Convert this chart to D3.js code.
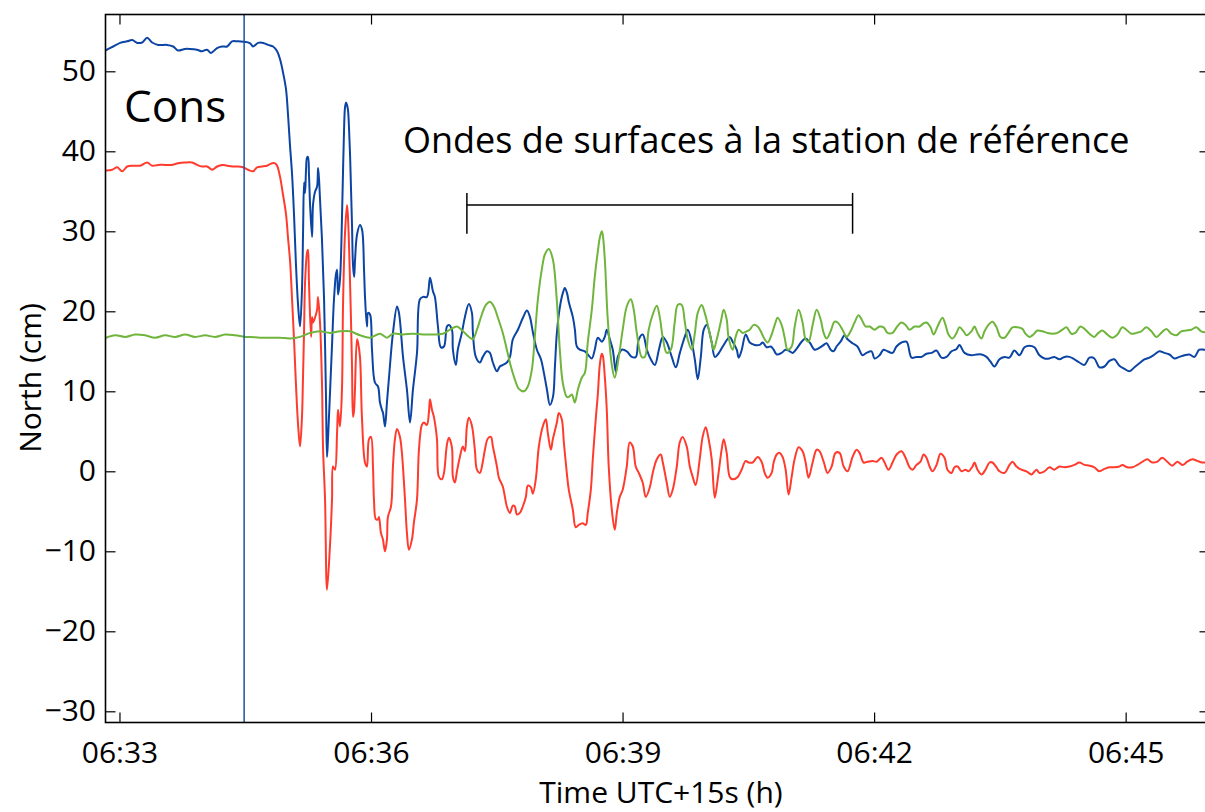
<!DOCTYPE html>
<html>
<head>
<meta charset="utf-8">
<script src="https://cdn.jsdelivr.net/npm/d3@7"></script>
<style>
  html, body { margin: 0; padding: 0; background: #fff; }
  svg text { font-family: "Open Sans", "Noto Sans", sans-serif; fill: #000; }
</style>
</head>
<body>
<svg id="chart" width="1205" height="812"></svg>
<script>
// Time in seconds after 06:33:00 (UTC+15 s), north displacement in cm.
const blueNorth = [
  [-10.2,52.6],[-4.5,53.1],[0.5,53.55],[5.5,53.75],[9.1,53.9],[12.7,53.55],[16.2,53.6],[19.8,54.2],
  [23.4,53.6],[27.7,53.3],[34.1,53.3],[38.4,53.1],[41.9,52.6],[46.8,52.8],[50.4,52.8],[55.4,52.7],
  [59.0,52.5],[62.6,52.7],[65.5,52.3],[69.8,52.9],[73.4,53.1],[77.0,53.1],[80.6,53.75],[84.2,53.75],
  [88.5,53.7],[93.5,53.5],[95.6,53.1],[99.2,53.55],[102.8,53.55],[106.4,53.3],[109.9,53.1],[112.8,52.5],
  [114.9,51.5],[117.1,49.8],[119.2,47.7],[120.6,44.6],[122.0,40.8],[123.5,37.1],[124.9,32.1],[126.3,25.8],
  [127.8,20.8],[129.2,18.1],[130.6,22.7],[131.4,30.2],[132.1,36.1],[132.8,34.8],[133.5,37.7],[134.2,39.2],
  [134.9,39.3],[135.6,37.1],[136.4,33.3],[137.8,29.3],[138.5,33.3],[139.9,34.9],[141.4,35.6],[142.1,37.9],
  [142.8,36.5],[143.5,34.0],[144.9,29.0],[146.4,21.5],[147.8,9.0],[148.5,1.8],[149.2,4.0],[150.6,9.6],
  [152.1,15.8],[153.5,21.5],[154.9,24.6],[155.7,25.2],[156.4,22.1],[157.8,24.0],[159.2,31.5],[160.0,37.7],
  [160.7,42.7],[161.4,45.5],[162.1,46.1],[162.8,45.8],[163.5,45.2],[164.3,42.7],[165.0,39.6],[165.7,35.2],
  [166.4,30.8],[167.1,25.8],[167.9,24.3],[168.6,26.5],[170.0,29.6],[172.1,30.8],[173.6,30.2],[175.0,25.2],
  [175.7,21.8],[177.1,18.1],[177.9,19.8],[179.3,19.6],[180.7,15.2],[182.8,11.1],[185.0,10.6],[186.4,8.6],
  [187.8,7.7],[188.6,7.3],[190.0,5.6],[191.4,8.6],[192.9,11.8],[195.7,17.3],[198.6,20.6],[200.0,19.8],
  [202.9,14.3],[205.7,10.2],[207.9,6.1],[210.0,10.2],[212.9,14.8],[215.0,21.5],[217.2,21.8],[220.0,21.8],
  [222.2,24.2],[224.3,22.5],[225.7,21.8],[227.9,18.1],[230.0,15.5],[232.2,15.6],[234.3,18.1],[235.7,18.3],
  [237.9,17.7],[238.6,15.2],[240.7,13.3],[242.1,15.2],[245.0,17.3],[247.2,19.3],[250.0,20.9],[252.2,19.8],
  [252.9,17.3],[255.0,14.3],[257.9,13.6],[260.0,14.3],[262.9,15.0],[265.1,14.8],[267.2,13.6],[270.1,12.5],
  [272.2,13.1],[274.4,13.3],[277.2,13.6],[279.4,14.3],[281.5,16.5],[285.1,17.7],[288.7,19.2],[291.6,20.1],
  [293.7,19.3],[295.9,17.3],[298.7,15.2],[301.6,14.0],[303.7,12.3],[305.9,10.2],[308.0,8.3],[310.2,9.3],
  [311.6,13.1],[313.0,17.3],[315.2,20.6],[317.3,22.3],[318.7,22.9],[320.2,22.3],[321.6,21.1],[324.4,19.3],
  [325.9,17.7],[327.3,15.6],[329.4,15.2],[333.0,15.0],[335.1,14.6],[338.0,14.1],[340.1,15.2],[342.3,16.7],
  [345.2,16.2],[347.3,16.8],[348.7,17.7],[350.9,16.5],[353.0,15.2],[355.2,12.4],[356.6,14.3],[359.5,15.2],
  [363.0,15.0],[366.6,14.3],[369.5,14.3],[371.6,16.5],[374.5,17.1],[377.4,15.2],[380.2,14.0],[383.1,13.3],
  [386.0,15.2],[388.8,16.8],[391.7,16.1],[395.2,14.3],[398.1,13.0],[401.0,14.8],[404.5,16.8],[406.7,17.7],
  [409.5,16.1],[411.7,14.0],[413.8,11.5],[416.0,14.3],[418.1,17.7],[420.3,18.3],[423.8,16.1],[426.0,14.3],
  [428.1,14.6],[431.7,15.6],[436.7,16.8],[438.8,16.2],[441.7,15.2],[443.1,14.2],[445.3,15.2],[448.1,17.1],
  [451.0,16.1],[454.6,15.8],[458.1,15.8],[460.3,16.1],[463.1,15.5],[466.0,15.6],[468.1,15.2],[470.3,14.6],
  [473.8,14.8],[476.7,15.2],[479.6,15.0],[481.7,14.8],[484.5,15.3],[488.1,16.2],[491.0,16.6],[493.9,16.1],
  [497.4,15.2],[499.6,15.3],[503.2,15.7],[506.0,16.0],[508.9,15.2],[511.0,15.0],[513.1,15.6],[516.0,16.2],
  [518.9,17.0],[521.0,16.5],[524.6,16.0],[528.1,15.6],[531.7,14.5],[534.6,14.8],[538.2,15.0],[540.3,14.1],
  [543.9,14.5],[546.7,15.2],[549.6,15.0],[553.2,14.8],[556.0,15.6],[559.6,16.1],[563.2,16.2],[566.8,14.2],
  [570.3,14.3],[573.9,14.3],[577.5,14.7],[581.1,14.8],[584.6,15.1],[588.2,14.2],[591.8,14.3],[595.4,15.0],
  [599.0,15.3],[601.1,15.8],[604.7,14.8],[609.7,14.5],[613.3,14.6],[616.9,14.6],[620.4,14.3],[623.3,13.7],
  [626.1,13.1],[629.7,14.0],[633.3,14.3],[636.8,14.2],[640.4,15.1],[644.0,14.5],[647.6,15.5],[651.1,15.7],
  [654.7,15.5],[658.3,14.5],[661.9,14.1],[665.4,14.1],[669.0,14.3],[672.6,14.0],[676.2,14.3],[679.8,14.3],
  [683.3,14.0],[686.9,13.6],[690.5,13.3],[694.1,14.2],[697.6,14.1],[701.2,13.0],[704.8,13.1],[708.4,13.8],
  [711.9,14.0],[715.5,13.2],[719.1,12.8],[722.7,12.5],[726.3,13.0],[729.8,13.5],[733.4,14.0],[737.0,14.2],
  [740.6,14.6],[744.1,15.0],[747.7,14.8],[751.3,14.6],[754.9,14.1],[758.4,14.3],[762.0,14.5],[765.6,14.6],
  [769.2,14.3],[772.7,15.2],[776.3,15.2],[779.9,15.2]
];

const redNorth = [
  [-9.5,37.6],[-5.2,37.7],[-1.6,38.0],[1.9,37.5],[5.5,38.1],[9.8,38.2],[14.8,38.2],[19.8,38.6],
  [23.4,38.2],[27.7,38.3],[32.7,38.3],[37.7,38.3],[42.0,38.5],[47.0,38.6],[52.0,38.6],[55.6,38.3],
  [59.1,38.1],[62.7,38.1],[66.3,37.7],[69.9,38.1],[73.4,38.3],[77.0,38.2],[80.6,38.1],[84.2,38.1],
  [88.4,38.0],[92.0,37.7],[95.6,37.5],[98.5,38.0],[102.0,38.1],[105.6,38.2],[109.2,38.5],[111.3,38.5],
  [112.8,38.2],[114.9,36.8],[117.0,34.6],[119.2,32.1],[120.6,29.2],[122.1,26.2],[123.5,21.5],[124.9,16.5],
  [126.3,10.8],[127.8,5.8],[129.2,3.1],[130.6,6.8],[131.3,11.5],[132.1,17.7],[132.8,23.6],[134.2,27.3],
  [134.9,27.7],[135.6,23.6],[137.1,16.8],[137.8,19.3],[138.5,18.6],[139.9,19.2],[141.4,20.2],[142.1,21.8],
  [143.5,18.6],[144.9,11.1],[145.7,2.7],[147.1,-3.5],[148.5,-14.8],[150.6,-9.4],[152.1,-3.5],[152.8,0.6],
  [154.2,0.2],[155.7,4.8],[156.4,7.7],[157.8,5.6],[159.2,10.2],[160.0,21.1],[161.4,29.8],[162.8,33.3],
  [163.5,31.8],[165.0,23.6],[166.4,13.1],[167.1,6.8],[167.8,7.5],[168.5,10.2],[170.0,16.5],[170.7,16.1],
  [172.1,14.3],[173.5,6.8],[175.7,1.1],[177.1,0.6],[178.5,4.0],[180.0,4.3],[181.4,0.6],[182.1,-3.5],
  [183.5,-6.0],[185.0,-6.0],[185.7,-5.7],[187.1,-7.7],[188.5,-8.5],[189.3,-9.4],[190.0,-10.0],[191.4,-8.5],
  [192.1,-5.7],[194.3,-4.4],[195.7,0.6],[197.1,4.0],[198.6,5.3],[200.7,4.3],[202.1,2.3],[204.3,-3.5],
  [205.7,-7.7],[207.1,-9.8],[209.3,-8.5],[210.7,-6.4],[212.9,-3.5],[214.3,2.7],[216.4,5.8],[217.9,6.1],
  [220.0,5.8],[221.4,7.3],[222.2,9.0],[223.6,7.7],[225.0,6.8],[227.2,4.0],[228.6,-0.7],[230.7,-1.0],
  [232.2,-0.2],[234.3,3.3],[235.7,4.2],[237.9,3.0],[238.6,-0.7],[240.0,-1.4],[241.5,0.0],[243.6,1.8],
  [245.7,3.1],[247.2,2.5],[248.6,5.6],[250.0,6.7],[252.2,5.7],[254.3,2.7],[255.8,0.2],[257.9,-0.2],
  [260.0,1.2],[261.5,2.7],[263.6,4.1],[265.8,4.3],[267.2,3.1],[270.1,0.6],[271.5,-0.8],[274.3,-1.9],
  [275.8,-3.2],[277.2,-4.4],[279.4,-5.2],[281.5,-4.3],[282.9,-4.4],[284.4,-5.4],[286.5,-5.2],[288.6,-4.4],
  [290.8,-3.2],[292.2,-1.8],[294.4,-2.0],[295.8,-2.8],[297.9,-1.0],[300.1,3.1],[302.9,5.6],[305.1,6.5],
  [306.5,4.8],[308.7,2.7],[310.1,4.0],[313.0,6.1],[314.4,7.3],[316.5,6.5],[318.0,3.6],[320.1,-0.2],
  [321.5,-2.3],[324.4,-4.8],[326.5,-7.0],[328.7,-6.7],[331.5,-6.5],[333.7,-6.7],[335.1,-5.2],[337.3,-2.3],
  [338.7,1.5],[340.8,6.5],[342.3,9.6],[343.7,13.3],[345.1,14.7],[345.8,14.5],[347.3,11.8],[348.7,7.7],
  [350.1,0.6],[352.3,-4.8],[354.4,-7.3],[355.9,-5.2],[358.0,-3.2],[360.1,-2.3],[363.0,0.6],[365.1,3.6],
  [367.3,3.1],[369.4,0.6],[371.6,-0.2],[374.4,-1.4],[376.6,-3.2],[379.5,-2.0],[381.6,-0.2],[384.5,1.5],
  [387.3,2.1],[388.8,1.1],[391.6,-1.4],[393.8,-3.2],[395.9,-2.3],[398.8,0.6],[400.9,3.6],[403.0,4.3],
  [405.9,3.1],[408.1,0.6],[410.2,-0.7],[412.3,-1.7],[415.2,1.5],[417.3,4.3],[419.5,5.5],[421.6,4.0],
  [423.8,1.5],[426.0,-3.3],[428.1,-1.0],[430.9,2.7],[432.4,4.0],[434.5,2.3],[436.7,-0.7],[438.8,-1.0],
  [442.4,-0.7],[445.2,0.2],[448.1,1.3],[450.2,1.1],[453.1,1.1],[456.7,1.8],[459.5,1.2],[461.7,-0.2],
  [463.8,-0.8],[466.7,-0.2],[468.1,1.1],[470.3,2.1],[472.4,2.3],[474.5,1.8],[476.7,0.2],[478.8,-2.9],
  [481.0,-0.7],[483.1,1.5],[486.0,3.0],[488.8,2.5],[491.0,1.1],[493.1,-0.8],[496.0,1.1],[498.9,2.7],
  [501.0,2.5],[503.9,1.2],[506.7,-0.2],[509.6,0.6],[512.4,2.3],[515.3,2.3],[518.2,0.6],[521.0,0.0],
  [524.6,1.8],[527.5,2.7],[529.6,2.3],[532.5,1.1],[535.3,1.2],[538.9,1.3],[541.8,1.2],[545.3,1.7],
  [547.5,1.1],[550.3,0.2],[553.2,1.1],[556.1,2.1],[559.6,2.5],[562.5,1.7],[565.4,0.5],[567.5,0.2],
  [570.3,0.8],[573.2,1.2],[575.4,2.1],[577.5,1.7],[579.7,0.6],[581.8,0.0],[584.7,0.8],[587.5,2.2],
  [590.4,1.7],[592.5,0.2],[595.4,-0.2],[597.5,0.5],[599.7,0.6],[602.5,0.0],[605.4,0.2],[607.5,0.0],
  [610.4,0.6],[611.8,1.1],[614.0,0.2],[616.8,-0.4],[619.7,0.2],[622.6,1.1],[624.7,1.1],[627.6,0.5],
  [629.7,0.0],[633.3,-0.2],[636.9,0.8],[639.0,1.2],[641.9,0.6],[645.4,0.2],[649.0,0.0],[652.6,-0.4],
  [656.2,0.2],[658.3,-0.2],[661.9,0.0],[665.5,0.5],[669.0,0.2],[672.6,0.6],[676.2,0.5],[679.8,0.6],
  [683.3,0.8],[686.9,1.1],[690.5,0.8],[694.1,0.7],[697.6,0.5],[701.2,0.0],[704.8,0.3],[708.4,0.5],
  [712.0,0.5],[715.5,0.6],[717.7,0.8],[721.2,0.5],[724.8,0.5],[728.4,0.8],[732.1,1.2],[735.5,1.5],
  [739.1,1.1],[742.7,1.2],[746.2,1.7],[749.8,1.2],[753.4,0.7],[757.0,1.2],[760.6,0.8],[764.1,1.2],
  [767.7,1.5],[771.3,1.3],[774.8,1.1],[779.9,1.2]
];

const greenNorth = [
  [-9.5,16.7],[-3.1,17.0],[4.1,16.8],[11.2,17.1],[18.4,17.0],[25.5,16.7],[32.7,17.0],[39.8,16.8],
  [47.0,17.1],[54.1,16.8],[61.3,17.0],[68.4,16.8],[75.6,17.1],[82.7,17.0],[89.9,16.8],[93.5,16.8],
  [100.6,16.7],[107.8,16.7],[114.9,16.7],[122.1,16.6],[129.2,16.8],[136.4,17.3],[143.5,17.5],[150.7,17.3],
  [157.8,17.5],[165.0,17.5],[172.1,17.0],[179.3,16.7],[186.4,17.2],[191.4,16.7],[195.7,17.2],[202.8,17.1],
  [210.0,17.2],[217.1,17.1],[224.3,17.1],[231.4,17.2],[236.5,17.7],[241.5,18.1],[245.8,17.5],[250.8,16.7],
  [252.9,16.5],[255.8,17.7],[259.3,19.6],[262.2,20.8],[265.1,21.2],[267.9,20.6],[270.8,19.2],[274.3,17.3],
  [277.2,15.2],[280.1,13.1],[282.9,11.5],[285.8,10.3],[289.4,10.0],[292.2,10.6],[295.1,12.7],[297.2,16.8],
  [299.4,21.5],[302.2,25.2],[304.4,27.1],[307.2,27.8],[310.1,26.5],[312.9,21.5],[315.1,15.2],[317.2,11.1],
  [320.1,9.3],[321.5,9.3],[323.7,9.6],[325.8,8.6],[328.0,10.2],[330.8,11.7],[333.0,12.3],[335.1,16.1],
  [338.0,20.2],[340.1,24.3],[342.3,27.5],[343.7,29.2],[345.1,30.0],[345.8,29.6],[347.3,26.5],[349.4,19.0],
  [352.3,13.3],[354.4,11.7],[357.3,14.3],[360.1,17.7],[363.0,20.6],[365.9,21.5],[368.0,20.2],[370.2,17.3],
  [373.7,14.3],[375.9,14.3],[378.7,17.7],[381.6,19.6],[384.5,20.7],[386.6,19.3],[388.7,16.8],[391.6,14.8],
  [394.5,15.2],[397.3,18.6],[399.5,20.8],[402.3,20.8],[404.5,18.7],[406.6,16.5],[409.5,15.2],[411.6,17.1],
  [413.8,19.8],[416.6,20.8],[418.8,19.8],[421.0,18.3],[423.8,16.1],[425.2,15.2],[427.4,16.5],[430.2,18.6],
  [432.4,20.2],[434.5,19.0],[435.9,16.7],[438.8,15.2],[440.9,16.8],[443.1,17.7],[445.9,17.3],[448.8,17.5],
  [451.0,17.7],[453.8,18.3],[456.7,18.1],[459.5,17.3],[461.7,16.5],[463.8,16.1],[466.7,17.1],[468.9,18.3],
  [471.0,19.2],[473.8,18.3],[476.0,16.7],[478.1,15.2],[481.0,15.6],[483.1,18.0],[486.0,20.2],[488.8,18.6],
  [491.0,16.5],[493.1,16.2],[496.0,18.3],[498.9,20.2],[501.7,19.0],[503.9,17.3],[506.0,16.6],[508.9,17.5],
  [511.7,18.7],[513.9,18.6],[517.4,17.7],[520.3,16.8],[523.2,17.5],[526.0,18.6],[528.9,19.5],[531.0,19.0],
  [533.9,18.1],[536.8,18.1],[540.3,17.7],[543.9,18.1],[546.8,18.0],[549.6,17.3],[553.2,17.3],[556.1,18.0],
  [559.6,18.6],[562.5,18.3],[565.4,17.7],[568.9,18.1],[572.5,18.1],[575.4,18.5],[577.5,18.6],[580.4,18.0],
  [582.5,17.1],[585.4,18.1],[588.9,19.2],[591.1,18.3],[593.2,17.1],[596.1,16.6],[599.0,17.3],[601.1,18.0],
  [604.0,17.5],[606.1,17.0],[609.7,17.5],[611.8,18.1],[614.0,17.3],[616.8,16.6],[619.0,17.5],[621.8,18.3],
  [624.7,18.7],[627.6,18.0],[630.4,16.8],[633.3,16.7],[636.1,17.3],[639.0,18.0],[642.6,18.0],[646.1,17.8],
  [648.3,17.2],[651.1,16.8],[654.0,17.1],[656.9,17.6],[660.4,17.5],[664.0,17.3],[667.6,17.2],[671.2,17.3],
  [674.7,17.7],[677.6,18.0],[681.2,17.2],[684.0,17.3],[687.6,18.1],[690.5,17.8],[694.1,17.2],[697.6,16.8],
  [700.5,17.3],[703.3,17.6],[706.9,17.1],[710.5,16.7],[714.1,17.1],[717.6,18.0],[720.5,17.7],[724.1,17.2],
  [727.7,17.3],[731.2,17.5],[734.8,18.0],[738.4,17.5],[742.0,16.8],[745.5,17.3],[749.1,17.8],[752.7,17.2],
  [756.3,17.0],[759.8,17.5],[763.4,17.6],[767.0,17.7],[770.6,18.0],[774.1,17.5],[779.9,17.3]
];

// Axis ticks
const xTickSeconds = [0, 180, 360, 540, 720];
const xTickLabels = ["06:33", "06:36", "06:39", "06:42", "06:45"];
const yTickValues = [-30, -20, -10, 0, 10, 20, 30, 40, 50];

// Annotations (seconds / cm)
const markerTime = 89.2;                 // vertical reference line
const surfaceWaveWindow = [248.6, 524.6]; // bracketed interval
const bracketLevel = 33.3;
const bracketEnds = [34.8, 29.7];

const plot = { left: 105.5, top: 14.5, right: 1209.5, bottom: 722.5 };

const x = d3.scaleLinear().domain([-10, 780]).range([plot.left, plot.right]);
const y = d3.scaleLinear().domain([-31.4, 57.1]).range([plot.bottom, plot.top]);

const svg = d3.select("#chart");
const font = '"Open Sans", "Noto Sans", sans-serif';
const labelSize = 30;

svg.append("defs").append("clipPath").attr("id", "plotClip")
  .append("rect")
  .attr("x", plot.left).attr("y", plot.top)
  .attr("width", plot.right - plot.left).attr("height", plot.bottom - plot.top);

const lineGen = d3.line()
  .x(d => x(d[0]))
  .y(d => y(d[1]))
  .curve(d3.curveCatmullRom.alpha(0.5));

const series = [
  { data: blueNorth, color: "#0b44a3" },
  { data: redNorth, color: "#ff3b2e" },
  { data: greenNorth, color: "#6fb53c" }
];

const lines = svg.append("g").attr("clip-path", "url(#plotClip)");
series.forEach(s => {
  lines.append("path")
    .datum(s.data)
    .attr("d", lineGen)
    .attr("fill", "none")
    .attr("stroke", s.color)
    .attr("stroke-width", 2)
    .attr("stroke-linejoin", "round")
    .attr("stroke-linecap", "round");
});

// vertical reference line
svg.append("line")
  .attr("x1", x(markerTime)).attr("x2", x(markerTime))
  .attr("y1", plot.top).attr("y2", plot.bottom)
  .attr("stroke", "#1d4fa8").attr("stroke-width", 1.5);

// axes with inward ticks
const tickLen = 10;
function styleAxis(g) {
  g.select(".domain").remove();
  g.selectAll(".tick line").attr("stroke", "#000").attr("stroke-width", 1.2);
  g.selectAll("text").attr("font-family", font).attr("font-size", labelSize).attr("fill", "#000");
}

svg.append("g")
  .attr("transform", `translate(0,${plot.bottom})`)
  .call(d3.axisBottom(x).tickValues(xTickSeconds)
    .tickFormat((d, i) => xTickLabels[i]).tickSize(-tickLen).tickPadding(19))
  .call(styleAxis);

svg.append("g")
  .attr("transform", `translate(0,${plot.top})`)
  .call(d3.axisTop(x).tickValues(xTickSeconds).tickFormat("").tickSize(-tickLen))
  .call(styleAxis);

svg.append("g")
  .attr("transform", `translate(${plot.left},0)`)
  .call(d3.axisLeft(y).tickValues(yTickValues).tickSize(-tickLen).tickPadding(9.5))
  .call(styleAxis);

svg.append("g")
  .attr("transform", `translate(${plot.right},0)`)
  .call(d3.axisRight(y).tickValues(yTickValues).tickFormat("").tickSize(-tickLen))
  .call(styleAxis);

// frame
svg.append("rect")
  .attr("x", plot.left).attr("y", plot.top)
  .attr("width", plot.right - plot.left).attr("height", plot.bottom - plot.top)
  .attr("fill", "none").attr("stroke", "#000").attr("stroke-width", 1.6);

// axis titles
svg.append("text")
  .attr("x", 661).attr("y", 803)
  .attr("text-anchor", "middle")
  .attr("font-size", labelSize)
  .text("Time UTC+15s (h)");

svg.append("text")
  .attr("transform", "translate(41,378) rotate(-90)")
  .attr("text-anchor", "middle")
  .attr("font-size", labelSize)
  .text("North (cm)");

// station name
svg.append("text")
  .attr("x", 124).attr("y", 122)
  .attr("font-size", 44)
  .text("Cons");

// surface-wave annotation
svg.append("text")
  .attr("x", 403).attr("y", 153)
  .attr("font-size", 36)
  .text("Ondes de surfaces à la station de référence");

const br = svg.append("g").attr("stroke", "#000").attr("stroke-width", 1.5);
br.append("line")
  .attr("x1", x(surfaceWaveWindow[0])).attr("x2", x(surfaceWaveWindow[1]))
  .attr("y1", y(bracketLevel)).attr("y2", y(bracketLevel));
surfaceWaveWindow.forEach(t => {
  br.append("line")
    .attr("x1", x(t)).attr("x2", x(t))
    .attr("y1", y(bracketEnds[0])).attr("y2", y(bracketEnds[1]));
});
</script>
</body>
</html>
